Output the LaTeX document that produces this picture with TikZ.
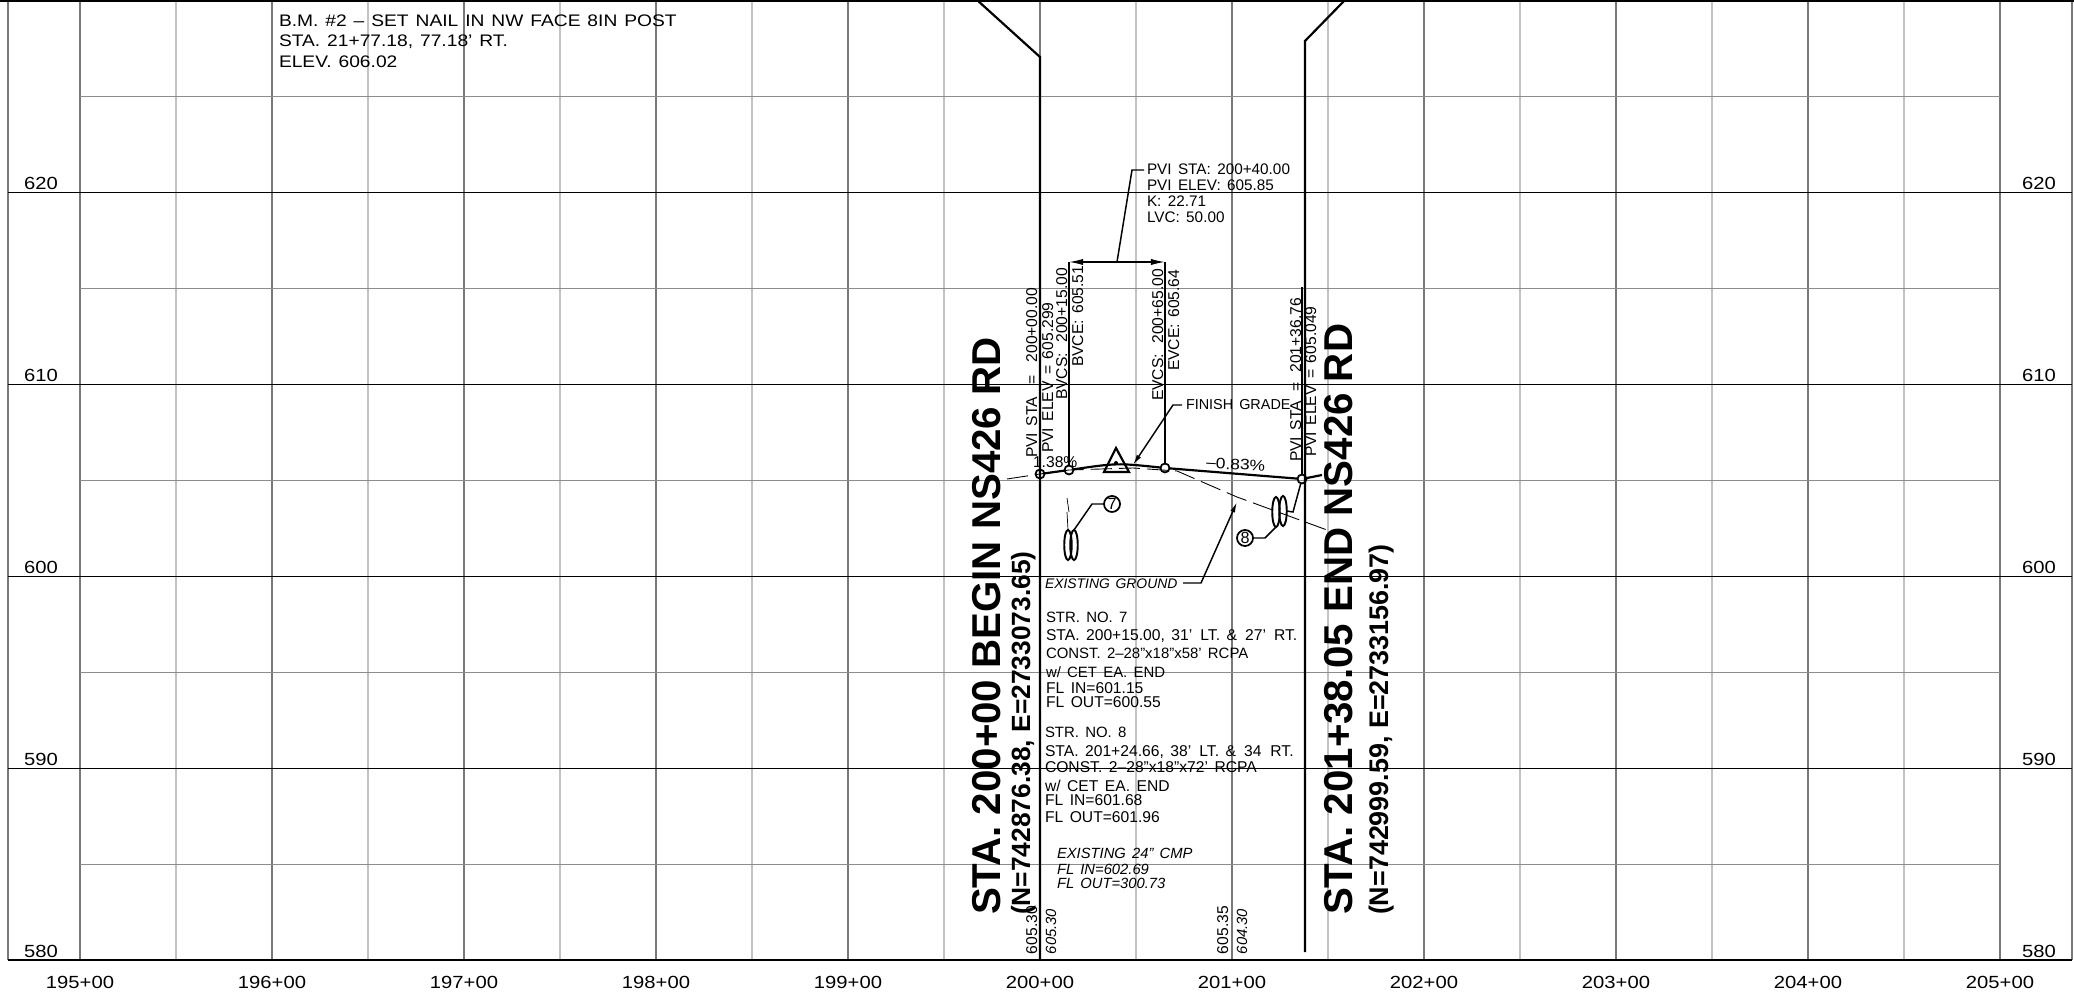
\documentclass[tikz,border=0pt]{standalone}
\usepackage{fontspec}
\setmainfont{Liberation Sans}[WordSpace=1.5]
\newfontfamily\bigfont{Liberation Sans}
\newfontfamily\widefont{Liberation Sans}[Ligatures=TeX, FakeStretch=1.15, WordSpace=1.3]
\definecolor{grid_major}{RGB}{120, 120, 120}
\definecolor{grid_minor}{RGB}{195, 195, 195}
\definecolor{grid_horiz}{RGB}{140, 140, 140}
\usetikzlibrary{arrows.meta, positioning, shapes.geometric, calc}

\begin{document}
\begin{tikzpicture}[
        x=0.01cm, y=-0.01cm,
        every node/.style={inner sep=0pt, outer sep=0pt},
        txt/.style={anchor=base west, font=\fontsize{4.45}{5}\selectfont},
        nar/.style={txt, font=\fontsize{4.25}{5}\selectfont},
        pvitxt/.style={anchor=base west, font=\fontsize{4.35}{5}\selectfont},
        bmtxt/.style={anchor=base west, font=\widefont\fontsize{4.75}{5}\selectfont},
        itxt/.style={txt, font=\fontsize{4.2}{5}\selectfont\itshape},
        vtxt/.style={txt, rotate=90},
        vitxt/.style={itxt, rotate=90},
        axistxt/.style={anchor=center, font=\widefont\fontsize{5.0}{6}\selectfont},
        bigtxt/.style={anchor=base west, rotate=90, font=\bigfont\bfseries\fontsize{11.45}{13}\selectfont},
        neh/.style={anchor=base west, rotate=90, font=\bigfont\bfseries\fontsize{7.5}{9}\selectfont},
        pmark/.style={circle, draw, line width=0.5pt, minimum size=0.09cm},
        numc/.style={circle, draw, line width=0.5pt, minimum size=0.16cm, font=\fontsize{4.6}{5}\selectfont},
        culv/.style={ellipse, draw, line width=0.55pt, minimum width=0.075cm, minimum height=0.3cm},
        prof/.style={line width=0.62pt},
        lead/.style={line width=0.42pt},
        arrowed/.style={-{Latex[length=3pt, width=1.4pt]}},
      ]
        \useasboundingbox (0,0) rectangle (2074,994);
        \fill[white] (0,0) rectangle (2074,994);

        % grid
        \foreach \x in {176,368,...,1904} \draw[grid_minor, line width=0.42pt] (\x,0) -- (\x,960);
        \foreach \x in {80,272,...,2000} \draw[grid_major, line width=0.42pt] (\x,0) -- (\x,960);
        \foreach \x in {8,2072} \draw[grid_major, line width=0.36pt] (\x,0) -- (\x,960);
        \foreach \y in {96,288,...,864} \draw[grid_horiz, line width=0.28pt] (80,\y) -- (2000,\y);
        \foreach \y in {192,384,...,768} \draw[black, line width=0.28pt] (8,\y) -- (2072,\y);
        \draw[black, line width=0.36pt] (8,960) -- (2072,960);
        \draw[black, line width=0.6pt] (0,1) -- (2074,1);

        % axis labels
        \foreach \s [count=\i from 0] in {195,...,205}
          \node[axistxt] (sta\s) at ({80+192*\i},982) {\s+00};
        \foreach \e [count=\i from 0] in {620,610,600,590,580} {
          \node[axistxt] (el\e) at (41,{183+192*\i}) {\e};
          \node[axistxt] (er\e) at (2039,{183+192*\i}) {\e};
        }

        % benchmark note
        \node[bmtxt] (bm1) at (279,27) {B.M. \#2 -- SET NAIL IN NW FACE 8IN POST};
        \node[bmtxt] (bm2) at (279,47) {STA. 21+77.18, 77.18' RT.};
        \node[bmtxt] (bm3) at (279,68) {ELEV. 606.02};

        % limits of project
        \coordinate (la) at (977,0);
        \coordinate (lb) at (1040,57);
        \coordinate (lc) at (1040,960);
        \coordinate (ra) at (1345,0);
        \coordinate (rb) at (1305,41);
        \coordinate (rc) at (1305,952);
        \draw[prof] (la) -- (lb) -- (lc);
        \draw[prof] (ra) -- (rb) -- (rc);

        \node[bigtxt] (begsta) at (1000,915) {STA. 200+00 BEGIN NS426 RD};
        \node[neh]    (begneh) at (1030,915) {(N=742876.38, E=2733073.65)};
        \node[bigtxt] (endsta) at (1352,915) {STA. 201+38.05 END NS426 RD};
        \node[neh, font=\bigfont\bfseries\fontsize{7.65}{9}\selectfont] (endneh) at (1388,915) {(N=742999.59, E=2733156.97)};

        % grade points
        \node[pmark] (pa) at (1040,474) {};
        \node[pmark] (pb) at (1069,470) {};
        \node[pmark] (pc) at (1165,468) {};
        \node[pmark] (pd) at (1302,479) {};
        \coordinate (pvi) at (1117,463);
        \coordinate (pe) at (1322,475);
        \draw[prof] (pa) -- (pb) .. controls (pvi) .. (pc) -- (pd) -- (pe);

        % existing ground
        \coordinate (ga) at (1007,479);
        \coordinate (gb) at (1327,530);
        \draw[line width=0.25pt, dash pattern=on 6pt off 2pt] (ga) -- (pa.center) -- (pb.center) -- (1133,468) -- (1177,471) -- (1237,497) -- (gb);

        % vertical tangents and bracket
        \coordinate (bl) at (1069,262);
        \coordinate (br) at (1165,262);
        \coordinate (bm) at (1117,262);
        \coordinate (pu) at (1302,287);
        \draw[lead] (pb) -- (bl);
        \draw[lead] (pc) -- (br);
        \draw[lead] (pd) -- (pu);
        \draw[lead, {Latex[length=4pt, width=1.8pt]}-{Latex[length=4pt, width=1.8pt]}] (bl) -- (br);

        \node[pvitxt] (pv1) at (1147,175) {PVI STA: 200+40.00};
        \node[pvitxt] (pv2) at (1147,191) {PVI ELEV: 605.85};
        \node[pvitxt] (pv3) at (1147,207) {K: 22.71};
        \node[pvitxt] (pv4) at (1147,223) {LVC: 50.00};
        \coordinate (pvl) at (1144,170);
        \draw[lead] (bm) -- (1132,170) -- (pvl);

        \node[vtxt] (v1) at (1037,458) {PVI STA\hspace{.4em} =\hspace{.4em} 200+00.00};
        \node[vtxt] (v2) at (1053,453) {PVI ELEV = 605.299};
        \node[vtxt] (v3) at (1067,400) {BVCS:\hspace{.25em} 200+15.00};
        \node[vtxt] (v4) at (1083,367) {BVCE: 605.51};
        \node[vtxt] (v5) at (1163,401) {EVCS:\hspace{.25em} 200+65.00};
        \node[vtxt] (v6) at (1179,371) {EVCE: 605.64};
        \node[vtxt] (v7) at (1301,462) {PVI STA\hspace{.2em} =\hspace{.2em} 201+36.76};
        \node[vtxt] (v8) at (1316,457) {PVI ELEV = 605.049};

        \node[txt] (g1) at (1033,468) {1.38\%};
        \node[bmtxt, rotate=-3, font=\widefont\fontsize{4.3}{5}\selectfont] (g2) at (1206,468) {--0.83\%};

        % pvi triangle
        \coordinate (ta) at (1116,448);
        \coordinate (tb) at (1104,472);
        \coordinate (tc) at (1129,472);
        \draw[prof] (ta) -- (tb) -- (tc) -- cycle;
        \node[circle, fill=black, minimum size=0.04cm] (tdot) at (1116,463) {};

        \node[txt, font=\fontsize{4.1}{5}\selectfont] (fg) at (1186,410) {FINISH GRADE};
        \coordinate (fgl) at (1182,405);
        \coordinate (fgtip) at (1133,465);
        \draw[lead, arrowed] (fgl) -- (1173,405) -- (fgtip);

        \node[itxt, font=\fontsize{3.95}{5}\selectfont\itshape] (eg) at (1045,589) {EXISTING GROUND};
        \coordinate (egtip) at (1237,502);
        \coordinate (egl) at (1183,583);
        \draw[lead, arrowed] (egl) -- (1201,583) -- (egtip);

        % culverts
        \node[culv] (e7a) at (1068,545) {};
        \node[culv] (e7b) at (1074,545) {};
        \node[numc] (c7) at (1112,504) {7};
        \draw[lead] (e7b.north) -- (1092,504) -- (c7);
        \coordinate (m7a) at (1067,498);
        \coordinate (m7b) at (1069,512);
        \coordinate (m7c) at (1067,512);
        \draw[line width=0.2pt] (m7a) -- (m7b);
        \draw[line width=0.2pt] (m7c) -- (e7a.north);

        \node[culv] (e8a) at (1276,512) {};
        \node[culv] (e8b) at (1283,511) {};
        \node[numc] (c8) at (1245,538) {8};
        \draw[lead] (c8) -- (1265,538) -- (e8a.south);
        \draw[lead] (e8b.east) -- (1293,512) -- (pd);

        % structure notes
        \node[nar] (a1) at (1046,623) {STR. NO. 7};
        \node[txt] (a2) at (1046,641) {STA. 200+15.00, 31'\hspace{.1em} LT. \&\hspace{.1em} 27'\hspace{.1em} RT.};
        \node[nar] (a3) at (1046,659) {CONST. 2--28"x18"x58' RCPA};
        \node[nar] (a4) at (1046,677) {w/ CET EA. END};
        \node[txt] (a5) at (1046,693) {FL IN=601.15};
        \node[txt] (a6) at (1046,708) {FL OUT=600.55};

        \node[nar] (b1) at (1045,738) {STR. NO. 8};
        \node[txt] (b2) at (1045,756) {STA. 201+24.66, 38'\hspace{.1em} LT. \&\hspace{.1em} 34\hspace{.15em} RT.};
        \node[txt] (b3) at (1045,773) {CONST. 2--28"x18"x72' RCPA};
        \node[txt] (b4) at (1045,791) {w/ CET EA. END};
        \node[txt] (b5) at (1045,806) {FL IN=601.68};
        \node[txt] (b6) at (1045,822) {FL OUT=601.96};

        \node[itxt] (c1) at (1057,858) {EXISTING 24" CMP};
        \node[itxt] (c2) at (1057,874) {FL IN=602.69};
        \node[itxt] (c3) at (1057,889) {FL OUT=300.73};

        % elevations at the bottom
        \node[vtxt] (d1) at (1037,954) {605.30};
        \node[vitxt] (d2) at (1056,954) {605.30};
        \node[vtxt] (d3) at (1228,954) {605.35};
        \node[vitxt] (d4) at (1247,954) {604.30};
      \end{tikzpicture}
\end{document}
